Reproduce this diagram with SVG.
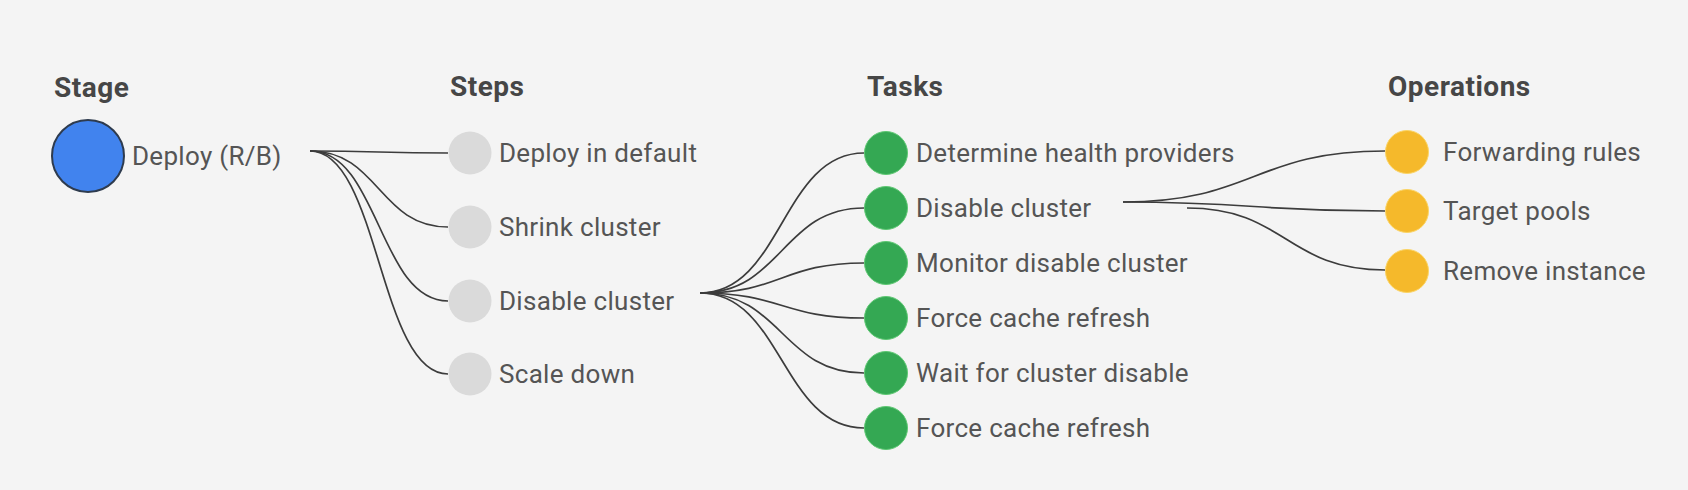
<svg xmlns="http://www.w3.org/2000/svg" width="1688" height="490" viewBox="0 0 1688 490">
<style>
.bg{fill:#f4f4f4}
.hd{font-family:Roboto,"Liberation Sans",sans-serif;font-weight:bold;font-size:28px;letter-spacing:0.5px;fill:#464646}
.lb{font-family:Roboto,"Liberation Sans",sans-serif;font-size:26px;letter-spacing:0.3px;fill:#555555}
.link{fill:none;stroke:#3c3c3c;stroke-width:1.7}
.stage{fill:#4183ee;stroke:#2e3b4e;stroke-width:2}
.step{fill:#dadada}
.task{fill:#34a853;stroke:#5ec873;stroke-width:1}
.op{fill:#f5b92b;stroke:#fbd465;stroke-width:1}
</style>
<rect class="bg" x="0" y="0" width="1688" height="490"/>
<g id="headers">
<text class="hd" x="54" y="97">Stage</text>
<text class="hd" x="450" y="96">Steps</text>
<text class="hd" x="867" y="96">Tasks</text>
<text class="hd" x="1388" y="96">Operations</text>
</g>
<g id="connectors">
<path class="link" d="M310,151 C379,151 379,153 448,153"/>
<path class="link" d="M310,151 C379,151 379,227 448,227"/>
<path class="link" d="M310,151 C379,151 379,301 448,301"/>
<path class="link" d="M310,151 C379,151 379,374 448,374"/>
<path class="link" d="M700,293 C782,293 782,153 864,153"/>
<path class="link" d="M700,293 C782,293 782,208 864,208"/>
<path class="link" d="M700,293 C782,293 782,263 864,263"/>
<path class="link" d="M700,293 C782,293 782,318 864,318"/>
<path class="link" d="M700,293 C782,293 782,373 864,373"/>
<path class="link" d="M700,293 C782,293 782,428 864,428"/>
<path class="link" d="M1123,202 C1254,202 1254,151 1385,151"/>
<path class="link" d="M1123,202 C1254,202 1254,211 1385,211"/>
<path class="link" d="M1187,208 C1286,208 1286,270 1385,270"/>
</g>
<g id="stage-deploy">
<circle class="stage" cx="88" cy="156" r="36"/>
<text class="lb" x="132" y="165">Deploy (R/B)</text>
</g>
<g id="step-deploy-default">
<circle class="step" cx="470" cy="153" r="21.5"/>
<text class="lb" x="499" y="162">Deploy in default</text>
</g>
<g id="step-shrink">
<circle class="step" cx="470" cy="227" r="21.5"/>
<text class="lb" x="499" y="236">Shrink cluster</text>
</g>
<g id="step-disable">
<circle class="step" cx="470" cy="301" r="21.5"/>
<text class="lb" x="499" y="310">Disable cluster</text>
</g>
<g id="step-scale-down">
<circle class="step" cx="470" cy="374" r="21.5"/>
<text class="lb" x="499" y="383">Scale down</text>
</g>
<g id="task-health">
<circle class="task" cx="886" cy="153" r="21.5"/>
<text class="lb" x="916" y="162">Determine health providers</text>
</g>
<g id="task-disable">
<circle class="task" cx="886" cy="208" r="21.5"/>
<text class="lb" x="916" y="217">Disable cluster</text>
</g>
<g id="task-monitor">
<circle class="task" cx="886" cy="263" r="21.5"/>
<text class="lb" x="916" y="272">Monitor disable cluster</text>
</g>
<g id="task-refresh-1">
<circle class="task" cx="886" cy="318" r="21.5"/>
<text class="lb" x="916" y="327">Force cache refresh</text>
</g>
<g id="task-wait">
<circle class="task" cx="886" cy="373" r="21.5"/>
<text class="lb" x="916" y="382">Wait for cluster disable</text>
</g>
<g id="task-refresh-2">
<circle class="task" cx="886" cy="428" r="21.5"/>
<text class="lb" x="916" y="437">Force cache refresh</text>
</g>
<g id="op-forwarding">
<circle class="op" cx="1407" cy="152" r="21.5"/>
<text class="lb" x="1443" y="161">Forwarding rules</text>
</g>
<g id="op-target-pools">
<circle class="op" cx="1407" cy="211" r="21.5"/>
<text class="lb" x="1443" y="220">Target pools</text>
</g>
<g id="op-remove">
<circle class="op" cx="1407" cy="271" r="21.5"/>
<text class="lb" x="1443" y="280">Remove instance</text>
</g>
</svg>
